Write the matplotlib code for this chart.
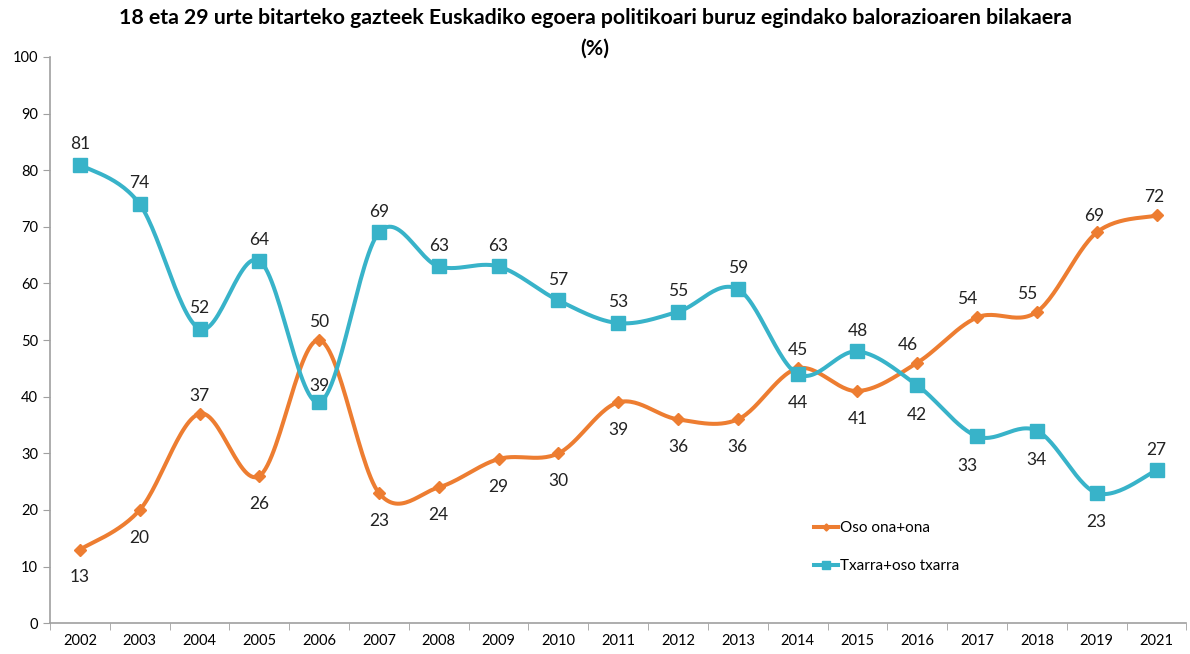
import numpy as np
import matplotlib
matplotlib.use("Agg")
import matplotlib.pyplot as plt

years = ["2002", "2003", "2004", "2005", "2006", "2007", "2008", "2009", "2010", "2011",
         "2012", "2013", "2014", "2015", "2016", "2017", "2018", "2019", "2021"]
ona = [13, 20, 37, 26, 50, 23, 24, 29, 30, 39, 36, 36, 45, 41, 46, 54, 55, 69, 72]
txarra = [81, 74, 52, 64, 39, 69, 63, 63, 57, 53, 55, 59, 44, 48, 42, 33, 34, 23, 27]

# label offsets in points (dx, dy)
ona_off = [(0, -20), (0, -20), (0, 13), (0, -20), (0, 13), (0, -20), (0, -20), (0, -20),
           (0, -20), (0, -20), (0, -20), (0, -20), (0, 13), (0, -20), (-7, 13), (-7, 13),
           (-7, 13), (-2, 12), (-2, 13)]
tx_off = [(0, 15), (0, 15), (0, 15), (0, 15), (0, 12), (0, 15), (0, 15), (0, 15),
          (0, 15), (0, 15), (0, 15), (0, 15), (0, -21), (0, 15), (0, -21), (-7, -21),
          (0, -21), (0, -21), (0, 15)]

ORANGE = "#ED7D31"
CYAN = "#38B3C9"

plt.rcParams["font.family"] = ["Lato", "DejaVu Sans"]

fig = plt.figure(figsize=(11.9, 6.54), dpi=100)
ax = fig.add_axes([0.042, 0.047, 0.955, 0.866])
ax.set_xlim(-0.5, len(years) - 0.5)
ax.set_ylim(0, 100)


def smooth(xs, ys, n=30):
    # Excel-like smoothed line: Catmull-Rom bezier computed in display space
    pts = ax.transData.transform(np.column_stack([xs, ys]))
    out = []
    for i in range(len(pts) - 1):
        p0 = pts[i - 1] if i > 0 else pts[i]
        p1, p2 = pts[i], pts[i + 1]
        p3 = pts[i + 2] if i + 2 < len(pts) else pts[i + 1]
        c1 = p1 + (p2 - p0) / 6
        c2 = p2 - (p3 - p1) / 6
        t = np.linspace(0, 1, n)[:, None]
        seg = ((1 - t) ** 3) * p1 + 3 * ((1 - t) ** 2) * t * c1 + 3 * (1 - t) * t ** 2 * c2 + t ** 3 * p2
        out.append(seg if i == 0 else seg[1:])
    out = np.vstack(out)
    return ax.transData.inverted().transform(out).T


x = np.arange(len(years))
for vals, col, mk, ms, lab in [(ona, ORANGE, "D", 6, "Oso ona+ona"),
                               (txarra, CYAN, "s", 9.5, "Txarra+oso txarra")]:
    sx, sy = smooth(x, vals)
    ax.plot(sx, sy, color=col, lw=2.9, solid_capstyle="round")
    ax.plot(x, vals, ls="none", marker=mk, ms=ms, color=col)
    ax.plot([], [], color=col, lw=2.9, marker=mk, ms=ms * 0.6, label=lab)

for vals, offs in [(ona, ona_off), (txarra, tx_off)]:
    for i, v in enumerate(vals):
        ax.annotate(str(v), (i, v), xytext=offs[i], textcoords="offset points",
                    ha="center", va="center", fontsize=12.5, color="#222222")

ax.set_xticks(x)
ax.set_xticklabels(years, fontsize=10.5)
ax.set_xticks(np.arange(-0.5, len(years)), minor=True)
ax.tick_params(axis="x", which="major", length=0, pad=8)
ax.tick_params(axis="x", which="minor", length=5, color="#a0a0a0")
ax.set_yticks(range(0, 101, 10))
ax.tick_params(axis="y", labelsize=10.5, length=5, color="#a0a0a0")
for s in ["top", "right"]:
    ax.spines[s].set_visible(False)
for s in ["left", "bottom"]:
    ax.spines[s].set_color("#a0a0a0")
    ax.spines[s].set_linewidth(1.2)

ax.legend(loc="upper left", bbox_to_anchor=(0.66, 0.205), frameon=False, fontsize=11,
          handlelength=1.6, handletextpad=0.1, labelspacing=1.6)

fig.text(0.5, 0.972, "18 eta 29 urte bitarteko gazteek Euskadiko egoera politikoari buruz egindako balorazioaren bilakaera",
         ha="center", va="center", fontsize=15.3, fontweight="bold")
fig.text(0.5, 0.925, "(%)", ha="center", va="center", fontsize=15.3, fontweight="bold")

fig.savefig("out.png", dpi=100)
